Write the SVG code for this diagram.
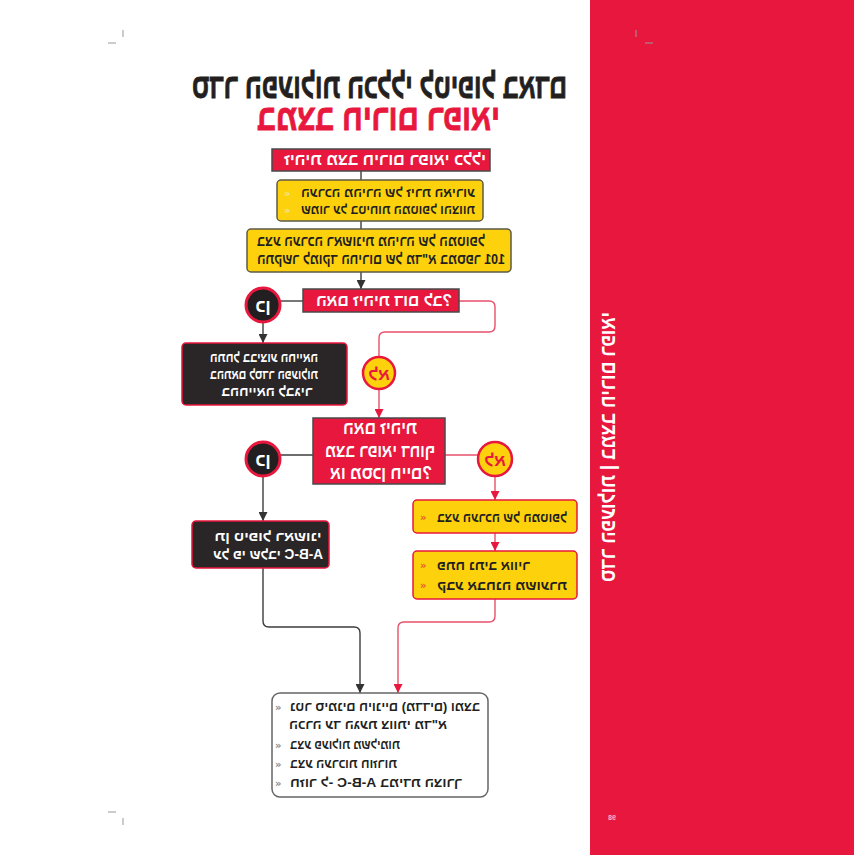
<svg xmlns="http://www.w3.org/2000/svg" width="854" height="855" viewBox="0 0 854 855">
<defs>
<marker id="ag" viewBox="0 0 10 10" refX="10" refY="5" markerWidth="9" markerHeight="9" markerUnits="userSpaceOnUse" orient="auto"><path d="M0,0 L10,5 L0,10 z" fill="#333"/></marker>
<marker id="ar" viewBox="0 0 10 10" refX="10" refY="5" markerWidth="9" markerHeight="9" markerUnits="userSpaceOnUse" orient="auto"><path d="M0,0 L10,5 L0,10 z" fill="#e8173d"/></marker>
</defs>
<style>
.he{font-family:"Liberation Sans","DejaVu Sans",sans-serif;font-weight:bold;direction:rtl;unicode-bidi:embed;text-anchor:middle}
.w{fill:#ffffff}
.k{fill:#231f20}
.r{fill:#e8173d}
.tk{stroke:#231f20;stroke-width:0.9}
.tr{stroke:#e8173d;stroke-width:0.9}
.yb{fill:#fdd20c;stroke:#5c5a48;stroke-width:1.5}
.yr{fill:#fdd20c;stroke:#e8173d;stroke-width:1.5}
.rb{fill:#e8173d;stroke:#4a4a4a;stroke-width:1.5}
.kb{fill:#2a2627;stroke:#e8173d;stroke-width:1.5}
.wb{fill:#ffffff;stroke:#666;stroke-width:1.5}
.cg{fill:none;stroke:#3d3d3d;stroke-width:1.4}
.cr{fill:none;stroke:#e8506b;stroke-width:1.4}
.yes{fill:#231f20;stroke:#e8173d;stroke-width:3}
.no{fill:#fdd20c;stroke:#e8173d;stroke-width:2.5}
.bl{font-family:"DejaVu Sans",sans-serif;font-weight:bold;font-size:10px}
.crop{stroke:#999;stroke-width:1}
</style>

<rect x="0" y="0" width="854" height="855" fill="#ffffff"/>
<rect x="590" y="0" width="264" height="855" fill="#e8173d"/>

<g class="crop">
<line x1="123" y1="30" x2="123" y2="37"/><line x1="108" y1="43" x2="116" y2="43"/>
<line x1="636" y1="30" x2="636" y2="37"/><line x1="645" y1="43" x2="653" y2="43"/>
<line x1="123" y1="818" x2="123" y2="825"/><line x1="108" y1="812" x2="116" y2="812"/>
</g>

<g id="title">
<text class="he k tk" transform="scale(-1,1)" x="-379.5" y="98" font-size="34" textLength="375" lengthAdjust="spacingAndGlyphs">סדר הפעולות הכללי לטיפול באדם</text>
<text class="he r tr" transform="scale(-1,1)" x="-378.5" y="130" font-size="36" textLength="243" lengthAdjust="spacingAndGlyphs">במצב חירום רפואי</text>
</g>

<g id="side" transform="translate(615,447) rotate(-90)">
<text class="he w" transform="scale(-1,1)" x="0" y="0" font-size="21" textLength="270" lengthAdjust="spacingAndGlyphs">סדר הפעולות | במצב חירום רפואי</text>
</g>
<text class="he" transform="scale(-1,1)" x="-612" y="820" font-size="7" fill="#f7b7c3">98</text>

<g id="connectors">
<path class="cg" d="M361,171 V180"/>
<path class="cg" d="M361,221 V229"/>
<path class="cg" d="M361,272 V289" marker-end="url(#ag)"/>
<path class="cg" d="M303,301 H280"/>
<path class="cg" d="M263,322 V343" marker-end="url(#ag)"/>
<path class="cr" d="M459,301 H489 Q495,301 495,307 V326 Q495,332 489,332 H385 Q379,332 379,338 V357"/>
<path class="cr" d="M379,389 V418" marker-end="url(#ar)"/>
<path class="cg" d="M313,455 H280"/>
<path class="cg" d="M263,476 V521" marker-end="url(#ag)"/>
<path class="cr" d="M445,455 H478"/>
<path class="cr" d="M495,476 V500" marker-end="url(#ar)"/>
<path class="cr" d="M495,533 V551" marker-end="url(#ar)"/>
<path class="cr" d="M495,599 V616 Q495,622 489,622 H404 Q398,622 398,628 V693" marker-end="url(#ar)"/>
<path class="cg" d="M263,568 V621 Q263,627 269,627 H354 Q360,627 360,633 V693" marker-end="url(#ag)"/>
</g>

<g id="start">
<rect class="rb" x="272" y="149" width="218" height="22"/>
<text class="he w" transform="scale(-1,1)" x="-385" y="165" font-size="16" textLength="202" lengthAdjust="spacingAndGlyphs">זיהית מצב חירום רפואי כללי</text>
</g>

<g id="scene">
<rect class="yb" x="277" y="180" width="206" height="41" rx="4"/>
<text class="bl" x="284" y="197" fill="#efe39a">»</text>
<text class="bl" x="284" y="214" fill="#efe39a">»</text>
<text class="he k" transform="scale(-1,1)" x="-388" y="197" font-size="13" textLength="174" lengthAdjust="spacingAndGlyphs">הערכה מהירה של זירת האירוע</text>
<text class="he k" transform="scale(-1,1)" x="-388" y="214" font-size="13" textLength="174" lengthAdjust="spacingAndGlyphs">שמור על בטיחות המטופל והצוות</text>
</g>

<g id="primary">
<rect class="yb" x="247" y="229" width="264" height="43" rx="4"/>
<text class="he k" transform="scale(-1,1)" x="-371" y="246" font-size="15" textLength="228" lengthAdjust="spacingAndGlyphs">בצע הערכה ראשונית מהירה של המטופל</text>
<text class="he k" transform="scale(-1,1)" x="-381" y="264" font-size="15" textLength="248" lengthAdjust="spacingAndGlyphs">התקשר למוקד החירום של מד"א במספר 101</text>
</g>

<g id="q1">
<rect class="rb" x="303" y="289" width="156" height="23"/>
<text class="he w" transform="scale(-1,1)" x="-384" y="306" font-size="16" textLength="136" lengthAdjust="spacingAndGlyphs">האם זיהית דום לב?</text>
</g>

<g id="yes1">
<circle class="yes" cx="263" cy="305" r="17"/>
<text class="he w" transform="scale(-1,1)" x="-263" y="312" font-size="18">כן</text>
</g>

<g id="cpr">
<rect class="kb" x="182" y="343" width="165" height="62" rx="4"/>
<text class="he w" transform="scale(-1,1)" x="-264" y="362" font-size="14" textLength="108" lengthAdjust="spacingAndGlyphs">התחל בביצוע החייאה</text>
<text class="he w" transform="scale(-1,1)" x="-264" y="379" font-size="14" textLength="108" lengthAdjust="spacingAndGlyphs">בהתאם לסדר הפעולות</text>
<text class="he w" transform="scale(-1,1)" x="-267" y="396" font-size="14" textLength="91" lengthAdjust="spacingAndGlyphs">בהחייאה לבגיר</text>
</g>

<g id="no1">
<circle class="no" cx="379" cy="373" r="16"/>
<text class="he r" transform="scale(-1,1)" x="-379" y="380" font-size="17">לא</text>
</g>

<g id="q2">
<rect class="rb" x="313" y="418" width="132" height="66"/>
<text class="he w" transform="scale(-1,1)" x="-380" y="434" font-size="18" textLength="74" lengthAdjust="spacingAndGlyphs">האם זיהית</text>
<text class="he w" transform="scale(-1,1)" x="-380" y="457" font-size="18" textLength="110" lengthAdjust="spacingAndGlyphs">מצב רפואי דחוף</text>
<text class="he w" transform="scale(-1,1)" x="-381" y="479" font-size="18" textLength="102" lengthAdjust="spacingAndGlyphs">או מסכן חיים?</text>
</g>

<g id="yes2">
<circle class="yes" cx="263" cy="459" r="17"/>
<text class="he w" transform="scale(-1,1)" x="-263" y="466" font-size="18">כן</text>
</g>

<g id="firstaid">
<rect class="kb" x="192" y="521" width="137" height="47" rx="4"/>
<text class="he w" transform="scale(-1,1)" x="-268" y="541" font-size="14" textLength="107" lengthAdjust="spacingAndGlyphs">תן טיפול ראשוני</text>
<text class="he w" transform="scale(-1,1)" x="-268" y="559" font-size="14" textLength="110" lengthAdjust="spacingAndGlyphs">על פי שלבי A-B-C</text>
</g>

<g id="no2">
<circle class="no" cx="495" cy="459" r="17"/>
<text class="he r" transform="scale(-1,1)" x="-495" y="466" font-size="17">לא</text>
</g>

<g id="assess">
<rect class="yr" x="413" y="500" width="164" height="33" rx="4"/>
<text class="bl" x="420" y="521" fill="#e9572d">»</text>
<text class="he k" transform="scale(-1,1)" x="-502" y="522" font-size="14" textLength="130" lengthAdjust="spacingAndGlyphs">בצע הערכה של המטופל</text>
</g>

<g id="airway">
<rect class="yr" x="413" y="551" width="164" height="48" rx="4"/>
<text class="bl" x="420" y="569" fill="#e9572d">»</text>
<text class="bl" x="420" y="589" fill="#e9572d">»</text>
<text class="he k" transform="scale(-1,1)" x="-483.5" y="570" font-size="14" textLength="93" lengthAdjust="spacingAndGlyphs">פתח נתיב אוויר</text>
<text class="he k" transform="scale(-1,1)" x="-502" y="590" font-size="14" textLength="130" lengthAdjust="spacingAndGlyphs">קבע אבחנה משוערת</text>
</g>

<g id="monitor">
<rect class="wb" x="272" y="693" width="216" height="104" rx="8"/>
<text class="bl" x="275" y="711" fill="#8a8a8a">»</text>
<text class="bl" x="275" y="749" fill="#8a8a8a">»</text>
<text class="bl" x="275" y="768" fill="#8a8a8a">»</text>
<text class="bl" x="275" y="787" fill="#8a8a8a">»</text>
<text class="he k" transform="scale(-1,1)" x="-385" y="711" font-size="12.5" textLength="190" lengthAdjust="spacingAndGlyphs">נטר סימנים חיוניים (מדדים) ומצב</text>
<text class="he k" transform="scale(-1,1)" x="-368" y="729" font-size="12.5" textLength="158" lengthAdjust="spacingAndGlyphs">הכרה עד הגעת צוותי מד"א</text>
<text class="he k" transform="scale(-1,1)" x="-345" y="749" font-size="12.5" textLength="110" lengthAdjust="spacingAndGlyphs">בצע פעולות משלימות</text>
<text class="he k" transform="scale(-1,1)" x="-343.5" y="768" font-size="12.5" textLength="107" lengthAdjust="spacingAndGlyphs">בצע הערכות חוזרות</text>
<text class="he k" transform="scale(-1,1)" x="-376" y="787" font-size="12.5" textLength="172" lengthAdjust="spacingAndGlyphs">חזור ל- A-B-C במידת הצורך</text>
</g>
</svg>
